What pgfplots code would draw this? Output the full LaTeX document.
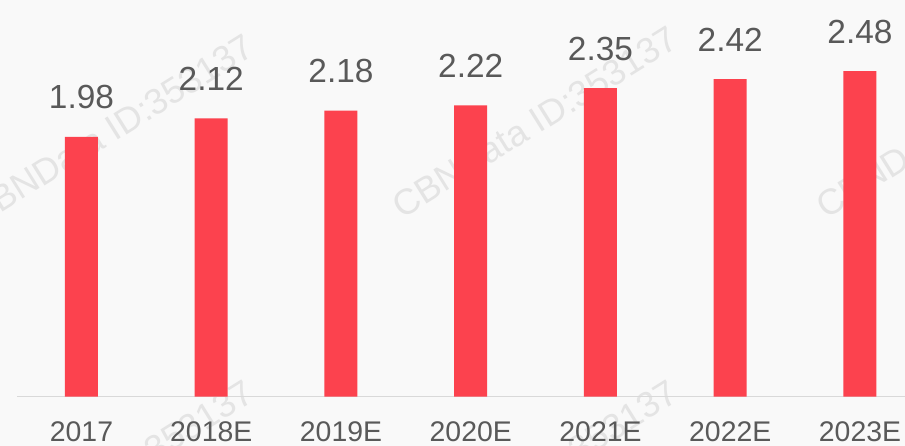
\documentclass[border=0pt]{standalone}
\usepackage{pgfplots}
\pgfplotsset{compat=1.18}
\usepackage{fontspec}
\setmainfont{Liberation Sans}
\definecolor{bg}{HTML}{F9F9F9}
\definecolor{barred}{HTML}{FC424E}
\definecolor{txtgray}{HTML}{595959}
\definecolor{linegray}{HTML}{D9D9D9}
\definecolor{wm}{HTML}{E4E4E4}
\begin{document}
\begin{tikzpicture}[x=1pt,y=1pt]
\path[use as bounding box] (0,0) rectangle (905,446);
\clip (0,0) rectangle (905,446);
\fill[bg] (0,0) rectangle (905,446);
% watermarks
\foreach \cx/\cy in {111/316, 535/324, 959/324, 111/-30, 535/-30}{
  \node[rotate=32, text=wm, font=\fontsize{36}{40}\selectfont] at (\cx,\cy) {CBNData ID:353137};
}
\begin{axis}[
  at={(17pt,49.3pt)}, anchor=south west,
  scale only axis,
  width=888pt, height=396.7pt,
  xmin=-0.497, xmax=6.347,
  ymin=0, ymax=3.022,
  enlargelimits=false,
  axis x line*=bottom,
  axis y line=none,
  x axis line style={draw=linegray, line width=1pt},
  xtick={0,1,2,3,4,5,6},
  xticklabels={2017,2018E,2019E,2020E,2021E,2022E,2023E},
  major tick length=0pt,
  xticklabel style={font=\fontsize{28.4}{30}\selectfont, text=txtgray, anchor=base, yshift=-45.3pt},
  ybar,
  bar width=33pt,
  nodes near coords={\pgfmathprintnumber[fixed,fixed zerofill,precision=2,assume math mode=true]{\pgfplotspointmeta}},
  every node near coord/.append style={font=\fontsize{33.4}{36}\selectfont, text=txtgray, anchor=base, yshift=28pt},
  clip=false,
]
\addplot[fill=barred, draw=none] coordinates {(0,1.98) (1,2.12) (2,2.18) (3,2.22) (4,2.35) (5,2.42) (6,2.48)};
\end{axis}
\end{tikzpicture}
\end{document}
